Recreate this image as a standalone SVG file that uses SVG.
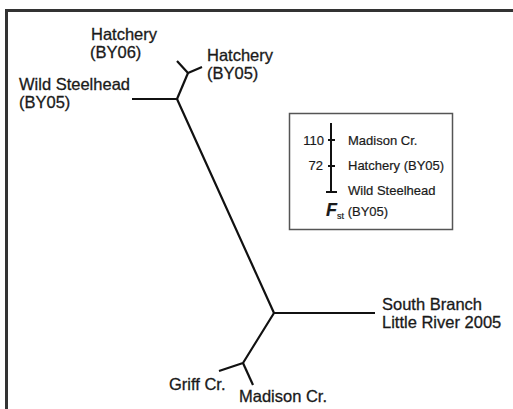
<svg xmlns="http://www.w3.org/2000/svg" width="513" height="409" viewBox="0 0 513 409">
<style>
.t{font-family:"Liberation Sans",Arial,sans-serif;font-size:16.5px;fill:#1a1a1a;stroke:#1a1a1a;stroke-width:0.3}
.s{font-family:"Liberation Sans",Arial,sans-serif;font-size:13px;fill:#1a1a1a;stroke:#1a1a1a;stroke-width:0.2}
.br{stroke:#111;stroke-width:2.2;fill:none;stroke-linecap:butt;stroke-linejoin:round}
</style>
<rect x="0" y="0" width="513" height="409" fill="#fff"/>
<path d="M6.5,409 V10.5 H513" fill="none" stroke="#333" stroke-width="3"/>
<g id="connectors">
<polyline class="br" points="132,99 177,99 274,313 375,313"/>
<polyline class="br" points="177,99 188,73"/>
<polyline class="br" points="177,61 188,73 202,67"/>
<polyline class="br" points="274,313 243,363 219,371"/>
<polyline class="br" points="243,363 253,385"/>
</g>
<g id="hatchery-by06"><text class="t" x="91" y="40">Hatchery</text><text class="t" x="90" y="58">(BY06)</text></g>
<g id="hatchery-by05"><text class="t" x="207" y="61">Hatchery</text><text class="t" x="207" y="79">(BY05)</text></g>
<g id="wild-steelhead"><text class="t" x="19" y="90">Wild Steelhead</text><text class="t" x="19" y="108">(BY05)</text></g>
<g id="south-branch"><text class="t" x="382" y="310">South Branch</text><text class="t" x="382" y="328">Little River 2005</text></g>
<g id="griff"><text class="t" x="169" y="390">Griff Cr.</text></g>
<g id="madison"><text class="t" x="239" y="402">Madison Cr.</text></g>
<g id="legend">
<rect x="289.5" y="113.5" width="163" height="116" fill="#fff" stroke="#555" stroke-width="1.5"/>
<path d="M331,123 V192 M328,140 H335 M328,166 H335 M326,192 H337" stroke="#111" stroke-width="2" fill="none"/>
<text class="s" x="324" y="145" text-anchor="end">110</text>
<text class="s" x="323" y="170" text-anchor="end">72</text>
<text class="s" x="348" y="145">Madison Cr.</text>
<text class="s" x="348" y="170">Hatchery (BY05)</text>
<text class="s" x="348" y="195">Wild Steelhead</text>
<text class="s" x="326" y="216"><tspan font-weight="bold" font-style="italic" font-size="18">F</tspan><tspan font-size="9" dy="3">st</tspan><tspan dy="-3"> (BY05)</tspan></text>
</g>
</svg>
